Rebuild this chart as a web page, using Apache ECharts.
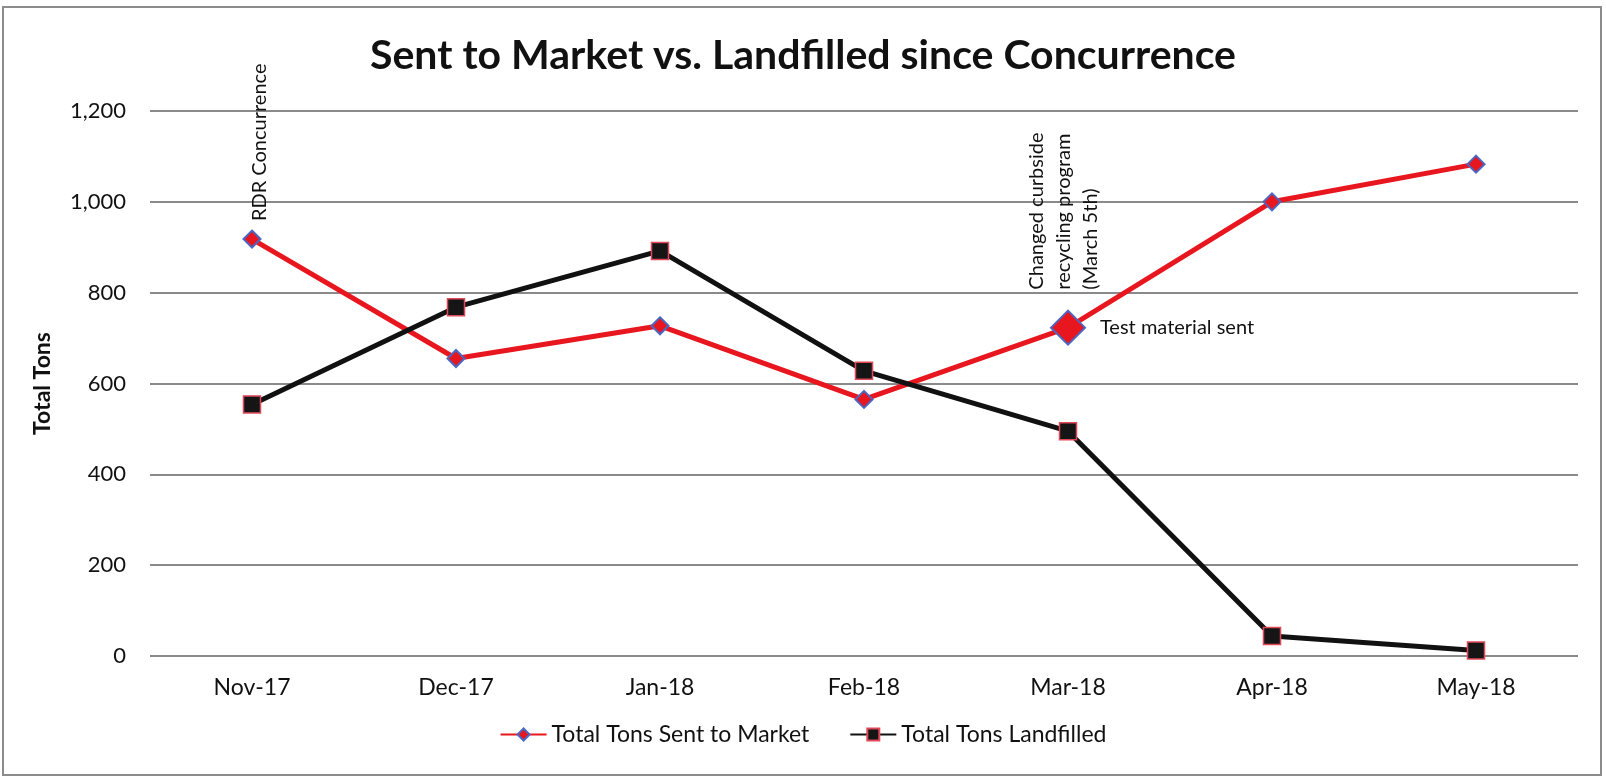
<!DOCTYPE html>
<html>
<head>
<meta charset="utf-8">
<script src="https://cdn.jsdelivr.net/npm/echarts@6/dist/echarts.min.js"></script>
<style>
  html, body { margin: 0; padding: 0; background: #fff; }
  #chart { width: 1606px; height: 778px; }
</style>
</head>
<body>
<div id="chart"></div>
<script>
// data
const months = ['Nov-17', 'Dec-17', 'Jan-18', 'Feb-18', 'Mar-18', 'Apr-18', 'May-18'];
const sentToMarket = [918, 655, 727, 565, 723, 1000, 1083];
const landfilled = [554, 768, 892, 628, 495, 44, 12];
const yTicks = [0, 200, 400, 600, 800, 1000, 1200];

const FONT = 'Lato, "Open Sans", sans-serif';
const chart = echarts.init(document.getElementById('chart'));

const sentData = sentToMarket.map((v, i) => {
    if (i === 4) {
        return {
            value: v,
            symbolSize: 34,
            label: {
                show: true,
                position: 'right',
                distance: 14,
                formatter: 'Test material sent',
                color: '#111',
                fontSize: 20,
                fontFamily: FONT
            }
        };
    }
    return v;
});

chart.setOption({
    backgroundColor: '#fff',
    animation: false,
    title: {
        text: 'Sent to Market vs. Landfilled since Concurrence',
        left: 'center',
        top: 30,
        textStyle: { fontSize: 41, fontWeight: 'bold', color: '#111', fontFamily: FONT }
    },
    legend: {
        bottom: 27,
        left: 'center',
        itemWidth: 46,
        itemHeight: 15,
        itemGap: 40,
        textStyle: { fontSize: 23, color: '#111', fontFamily: FONT },
        data: ['Total Tons Sent to Market', 'Total Tons Landfilled']
    },
    grid: { left: 150, right: 28, top: 111, bottom: 122 },
    xAxis: {
        type: 'category',
        data: months,
        axisLine: { show: false },
        axisTick: { show: false },
        axisLabel: { fontSize: 23, color: '#111', fontFamily: FONT, margin: 20 }
    },
    yAxis: {
        type: 'value',
        min: yTicks[0],
        max: yTicks[yTicks.length - 1],
        interval: 200,
        name: 'Total Tons',
        nameLocation: 'middle',
        nameGap: 96,
        nameTextStyle: { fontSize: 23, fontWeight: 'bold', color: '#111', fontFamily: FONT },
        axisLine: { show: false },
        axisTick: { show: false },
        axisLabel: {
            fontSize: 22, color: '#111', fontFamily: FONT, margin: 24,
            formatter: v => v.toLocaleString('en-US')
        },
        splitLine: { lineStyle: { color: '#8a8a8a', width: 2 } }
    },
    series: [
        {
            name: 'Total Tons Sent to Market',
            type: 'line',
            data: sentData,
            symbol: 'diamond',
            symbolSize: 17,
            lineStyle: { color: '#e8161e', width: 5 },
            itemStyle: { color: '#e8161e', borderColor: '#4a67c4', borderWidth: 2 },
            markPoint: {
                symbol: 'circle',
                symbolSize: 0,
                data: [
                    {
                        coord: [months[0], sentToMarket[0]],
                        label: {
                            show: true,
                            position: 'top',
                            distance: 18,
                            rotate: 90,
                            align: 'left',
                            verticalAlign: 'middle',
                            offset: [0, 8],
                            formatter: 'RDR Concurrence',
                            fontSize: 20,
                            color: '#111',
                            fontFamily: FONT
                        }
                    },
                    {
                        coord: [months[4], sentToMarket[4]],
                        label: {
                            show: true,
                            position: 'top',
                            distance: 38,
                            rotate: 90,
                            align: 'left',
                            verticalAlign: 'middle',
                            lineHeight: 27,
                            offset: [0, -4],
                            formatter: 'Changed curbside\nrecycling program\n(March 5th)',
                            fontSize: 20,
                            color: '#111',
                            fontFamily: FONT
                        }
                    }
                ]
            }
        },
        {
            name: 'Total Tons Landfilled',
            type: 'line',
            data: landfilled,
            symbol: 'rect',
            symbolSize: 17,
            lineStyle: { color: '#111', width: 5 },
            itemStyle: { color: '#151515', borderColor: '#e0485a', borderWidth: 1.5 }
        }
    ],
    graphic: [
        {
            type: 'rect',
            shape: { x: 3, y: 7, width: 1598, height: 768 },
            style: { fill: 'none', stroke: '#8c8c8c', lineWidth: 2 },
            silent: true
        }
    ]
});
</script>
</body>
</html>
